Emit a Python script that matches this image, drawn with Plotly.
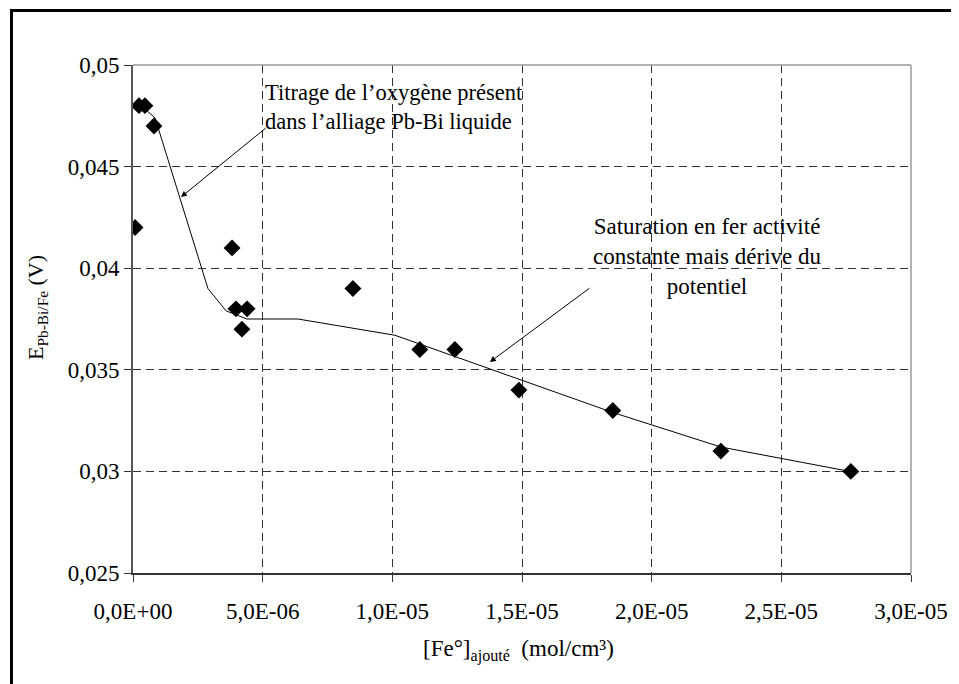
import plotly.graph_objects as go

# Measured points
fe_added = [0.08e-6, 0.23e-6, 0.46e-6, 0.81e-6, 3.82e-6, 3.97e-6, 4.2e-6, 4.4e-6,
            8.48e-6, 11.06e-6, 12.41e-6, 14.88e-6, 18.5e-6, 22.67e-6, 27.68e-6]
potential = [0.042, 0.048, 0.048, 0.047, 0.041, 0.038, 0.037, 0.038,
             0.039, 0.036, 0.036, 0.034, 0.033, 0.031, 0.030]

# Smoothed trend curve
trend_x = [0.4e-6, 0.85e-6, 2.89e-6, 3.59e-6, 4.39e-6, 6.36e-6, 10.1e-6, 18.5e-6, 22.67e-6, 27.64e-6]
trend_y = [0.0479, 0.0474, 0.0390, 0.0379, 0.0375, 0.0375, 0.0367, 0.0329, 0.0312, 0.0300]

x_ticks = [0, 5e-6, 1e-5, 1.5e-5, 2e-5, 2.5e-5, 3e-5]
x_tick_labels = ["0,0E+00", "5,0E-06", "1,0E-05", "1,5E-05", "2,0E-05", "2,5E-05", "3,0E-05"]
y_ticks = [0.025, 0.03, 0.035, 0.04, 0.045, 0.05]
y_tick_labels = ["0,025", "0,03", "0,035", "0,04", "0,045", "0,05"]

FONT = "Liberation Serif, Times New Roman, serif"
OFF = 8  # page body margin of the browser

L, T = 133 - OFF, 65 - OFF
PW, PH = 778, 508

def px(xp):
    return (xp - 133) / PW

def py(yp):
    return (573 - yp) / PH

fig = go.Figure()
fig.add_trace(go.Scatter(x=trend_x, y=trend_y, mode="lines",
                         line=dict(color="black", width=1), showlegend=False))
fig.add_trace(go.Scatter(x=fe_added, y=potential, mode="markers",
                         marker=dict(symbol="diamond", color="black", size=13),
                         showlegend=False))

fig.update_layout(
    width=959 - OFF, height=684 - OFF,
    margin=dict(l=L, r=959 - OFF - L - PW, t=T, b=684 - OFF - T - PH, autoexpand=False),
    paper_bgcolor="white", plot_bgcolor="white",
    font=dict(family=FONT, size=22, color="black"),
    xaxis=dict(range=[0, 3e-5], tickvals=x_ticks, ticktext=x_tick_labels,
               showgrid=True, gridcolor="#333", gridwidth=1, griddash="8px,5px",
               showline=True, linecolor="#333", linewidth=1.5,
               ticks="outside", ticklen=7, tickcolor="#333", zeroline=False,
               ticklabelstandoff=10,
               tickfont=dict(family=FONT, size=23)),
    yaxis=dict(range=[0.025, 0.05], tickvals=y_ticks, ticktext=y_tick_labels,
               showgrid=True, gridcolor="#333", gridwidth=1, griddash="8px,5px",
               showline=True, linecolor="#555", linewidth=2,
               ticks="outside", ticklen=7, tickcolor="#333", zeroline=False,
               tickfont=dict(family=FONT, size=23)),
)

# top and right border of plot area (gray)
fig.add_shape(type="line", xref="paper", yref="paper", x0=0, x1=1, y0=1, y1=1,
              line=dict(color="#999", width=1.5))
fig.add_shape(type="line", xref="paper", yref="paper", x0=1, x1=1, y0=0, y1=1,
              line=dict(color="#999", width=1.5))
# outer frame
fig.add_shape(type="rect", xref="paper", yref="paper",
              x0=px(11.5), x1=px(975), y0=py(700), y1=py(10.5),
              line=dict(color="black", width=3))

# axis titles
fig.add_annotation(xref="paper", yref="paper", x=px(37), y=py(308),
                   text="E<sub>Pb-Bi/Fe</sub> (V)", textangle=-90, showarrow=False,
                   font=dict(family=FONT, size=22), xanchor="center", yanchor="middle")
fig.add_annotation(xref="paper", yref="paper", x=px(518), y=py(650),
                   text="[Fe°]<sub>ajouté</sub>&nbsp;&nbsp;(mol/cm³)", showarrow=False,
                   font=dict(family=FONT, size=23), xanchor="center", yanchor="middle")

# annotation texts
fig.add_annotation(x=5.0e-6, y=0.04791,
                   text="Titrage de l’oxygène présent<br>dans l’alliage Pb-Bi liquide",
                   showarrow=False, xanchor="left", yanchor="middle", align="left",
                   font=dict(family=FONT, size=22.5))
fig.add_annotation(x=22.17e-6, y=0.0406,
                   text="Saturation en fer activité<br>constante mais dérive du<br>potentiel",
                   showarrow=False, xanchor="center", yanchor="middle", align="center",
                   font=dict(family=FONT, size=23))

# arrows
fig.add_annotation(x=1.85e-6, y=0.0435, ax=5.17e-6, ay=0.04695, axref="x", ayref="y",
                   text="", showarrow=True, arrowhead=2, arrowsize=1.2, arrowwidth=1,
                   arrowcolor="black")
fig.add_annotation(x=13.76e-6, y=0.03538, ax=17.66e-6, ay=0.03907, axref="x", ayref="y",
                   text="", showarrow=True, arrowhead=2, arrowsize=1.2, arrowwidth=1,
                   arrowcolor="black")

fig.write_html("out.html")
